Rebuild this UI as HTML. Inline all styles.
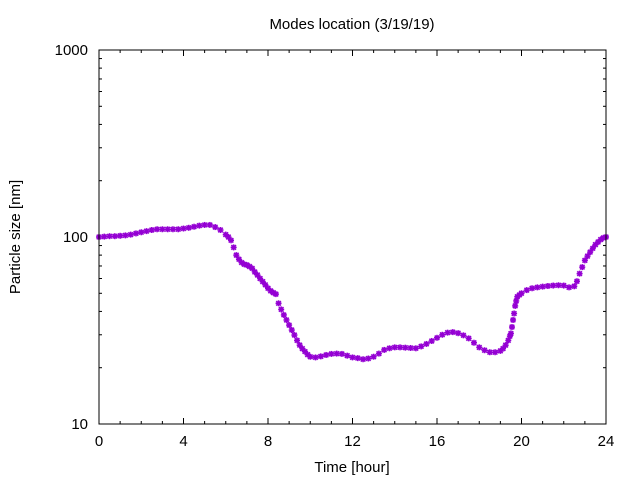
<!DOCTYPE html>
<html><head><meta charset="utf-8"><style>
body{margin:0;background:#fff}
svg text{font-family:"Liberation Sans",sans-serif;font-size:15px;fill:#000}
</style></head><body>
<svg id="c" width="640" height="480" xmlns="http://www.w3.org/2000/svg">
<text x="352" y="29" text-anchor="middle">Modes location (3/19/19)</text>
<text x="352" y="472" text-anchor="middle">Time [hour]</text>
<text transform="translate(20,237) rotate(-90)" text-anchor="middle">Particle size [nm]</text>
<g id="axes"></g>
<g id="pts"></g>
<rect x="99" y="50" width="507" height="374" fill="none" stroke="#000" stroke-width="1"/>
</svg>
<script>
const xTicks=[0,4,8,12,16,20,24];
const yTicks=[10,100,1000];
const hours=[0,.25,.5,.75,1,1.25,1.5,1.75,2,2.25,2.5,2.75,3,3.25,3.5,3.75,4,4.25,4.5,4.75,5,5.25,5.5,5.75,6,6.125,6.25,6.375,6.5,6.625,6.75,6.875,7,7.125,7.25,7.375,7.5,7.625,7.75,7.875,8,8.125,8.25,8.375,8.5,8.625,8.75,8.875,9,9.125,9.25,9.375,9.5,9.625,9.75,9.875,10,10.25,10.5,10.75,11,11.25,11.5,11.75,12,12.25,12.5,12.75,13,13.25,13.5,13.75,14,14.25,14.5,14.75,15,15.25,15.5,15.75,16,16.25,16.5,16.75,17,17.25,17.5,17.75,18,18.25,18.5,18.75,19,19.125,19.25,19.375,19.45,19.5,19.55,19.6,19.65,19.7,19.75,19.8,19.9,20,20.25,20.5,20.75,21,21.25,21.5,21.75,22,22.25,22.5,22.625,22.75,22.875,23,23.125,23.25,23.375,23.5,23.625,23.75,23.875,24];
const sizes=[100,100.5,101,101,101.5,102,103,104.5,106,107.5,109,110,110,110,110,110,111,112,113.5,115,116,116,113,109,103,100,96,88,80,76,73,71.5,70.8,69.5,68,65,62.6,60,57.7,55.5,53.2,51.5,50.4,49.5,44.2,41,38.3,36,33.8,31.8,29.9,28,26.4,25.3,24.4,23.5,22.9,22.7,23,23.4,23.7,23.8,23.7,23.2,22.7,22.5,22.2,22.4,22.9,23.8,24.9,25.4,25.7,25.7,25.6,25.5,25.4,26,26.8,27.8,28.9,30,30.8,31,30.6,29.8,28.7,27.2,25.7,24.8,24.2,24.2,24.6,25.3,26.4,28,29.5,30.5,33,36,39,42.8,45.5,47.9,49,50,52,53.2,53.8,54.3,54.7,55,55.2,55,53.8,54.5,58,63.7,69,75,79,83,87,91,94,97,99,100];
const X0=99,X1=606,Y0=424,Y1=50;
const xs=h=>X0+(h/24)*(X1-X0);
const ys=v=>Y0-(Math.log10(v)-1)/2*(Y0-Y1);
const NS="http://www.w3.org/2000/svg";
const ax=document.getElementById('axes');
function ln(g,x1,y1,x2,y2,c){const l=document.createElementNS(NS,'line');l.setAttribute('x1',x1);l.setAttribute('y1',y1);l.setAttribute('x2',x2);l.setAttribute('y2',y2);l.setAttribute('stroke',c||'#000');l.setAttribute('stroke-width','1');g.appendChild(l);return l;}
for(let h=0;h<=24;h++){const x=xs(h);const L=(h%4===0)?6:3;
const t1=ln(ax,x,Y0,x,Y0-L);


const t2=ln(ax,x,Y1,x,Y1+L);

}
xTicks.forEach(h=>{const t=document.createElementNS(NS,'text');t.setAttribute('x',xs(h));t.setAttribute('y',446);t.setAttribute('text-anchor','middle');t.textContent=h;


ax.appendChild(t);});
for(let d=10;d<1000;d*=10){for(let m=1;m<10;m++){const v=d*m;const y=ys(v);const L=m===1?6:3;
const a=ln(ax,X0,y,X0+L,y);


const b=ln(ax,X1,y,X1-L,y);

}}
yTicks.forEach(v=>{const t=document.createElementNS(NS,'text');t.setAttribute('x',88);t.setAttribute('y',ys(v)+5);t.setAttribute('text-anchor','end');t.textContent=v;


ax.appendChild(t);});
const pg=document.getElementById('pts');
hours.forEach((h,i)=>{const x=xs(h),y=ys(sizes[i]);const g=document.createElementNS(NS,'g');


const c='#9400d3',r=3;
ln(g,x-r,y,x+r,y,c).setAttribute('stroke-width','1.6');
ln(g,x,y-r,x,y+r,c).setAttribute('stroke-width','1.6');
ln(g,x-2.3,y-2.3,x+2.3,y+2.3,c).setAttribute('stroke-width','1.6');
ln(g,x-2.3,y+2.3,x+2.3,y-2.3,c).setAttribute('stroke-width','1.6');
pg.appendChild(g);});
</script>
</body></html>
